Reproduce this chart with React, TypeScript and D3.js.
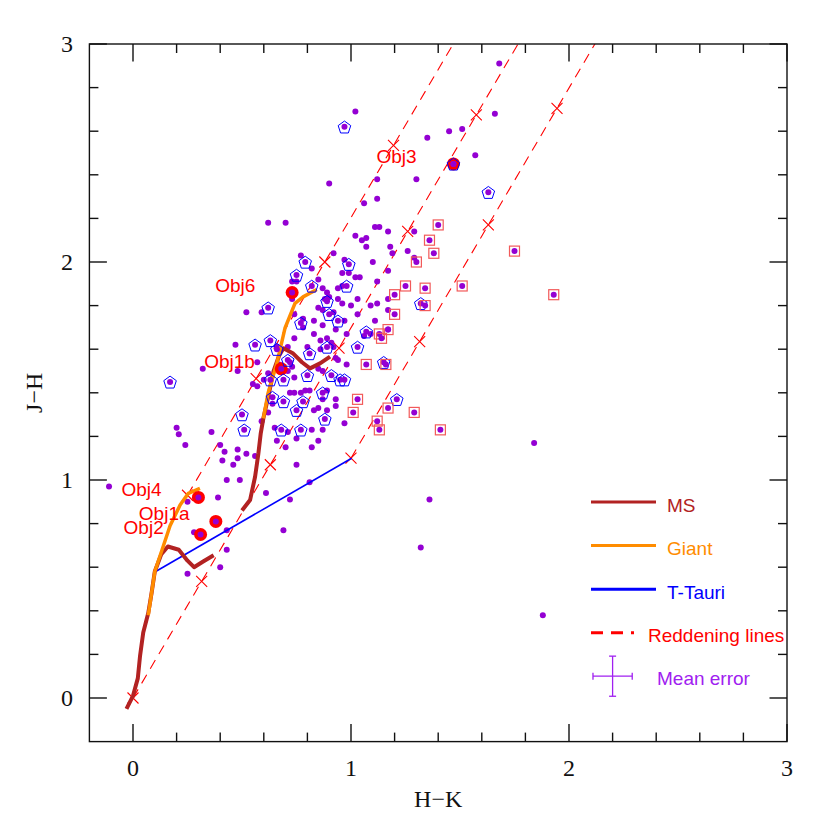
import { useEffect, useRef } from "react";
import * as d3 from "d3";

// plain J-H / H-K sources
const dotHK = [
  1.68, 1.02, 1.66, 1.51, 1.45, 1.35, 1.57, 1.12, 1.3, 0.9, 1.12, 1.06, 0.62, 0.7, 1.11, 1.13, 1.17, 1.29,
  1.02, 1.05, 1.07, 1.07, 1.18, 1.26, 1.19, 1.1, 1.17, 1.29, 0.92, 0.77, 0.82, 0.97, 0.85, 0.73, 0.75, 0.96,
  0.99, 1.02, 1.04, 1.12, 0.87, 0.94, 0.96, 0.89, 0.9, 0.88, 0.89, 0.94, 0.96, 1.0, 1.03, 1.12, 1.17, 1.09,
  0.73, 0.52, 0.59, 0.85, 0.87, 0.92, 0.74, 0.78, 0.83, 0.97, 1.03, 1.17, 1.11, 1.06, 1.09, 0.87, 0.78, 0.83,
  0.93, 0.74, 0.86, 0.89, 0.91, 0.92, 0.98, 0.47, 0.66, 0.57, 0.48, 0.32, 0.8, 0.71, 0.72, 0.98, 0.94, 1.17,
  0.62, 0.6, 0.74, 0.57, 0.55, 0.64, 0.72, 0.74, 0.77, 0.79, 0.81, 0.83, 0.87, 0.89, 0.93, 0.93, 0.89, 0.85,
  0.82, 0.87, 0.66, 0.7, 0.75, 0.82, 0.85, 0.36, 0.2, 0.21, 0.24, 0.4, 0.42, 0.41, 0.48, 0.52, 0.48, 0.46,
  0.56, 0.43, 0.49, 0.39, 0.61, 0.75, 0.81, 0.72, 1.36, 0.25, 0.43, 0.69, 0.28, 0.43, 0.4, 0.25, -0.11, 1.84,
  1.32, 1.88, 0.86, 0.93, 0.87, 0.67, 0.71, 0.73, 0.85, 0.59, 0.62, 0.65, 0.71, 0.97,
];
const dotJH = [
  2.91, 2.69, 2.68, 2.61, 2.6, 2.57, 2.49, 2.38, 2.38, 2.36, 2.29, 2.27, 2.18, 2.18, 2.16, 2.16, 2.14, 2.14,
  2.12, 2.1, 2.11, 2.07, 2.07, 2.05, 2.04, 2.0, 1.96, 2.02, 2.04, 2.03, 1.97, 2.01, 1.92, 1.91, 1.91, 1.95,
  1.95, 1.93, 1.93, 1.91, 1.88, 1.88, 1.89, 1.86, 1.84, 1.83, 1.83, 1.83, 1.81, 1.8, 1.83, 1.81, 1.83, 1.8,
  1.83, 1.77, 1.77, 1.79, 1.78, 1.77, 1.76, 1.74, 1.73, 1.73, 1.76, 1.78, 1.73, 1.66, 1.67, 1.71, 1.7, 1.67,
  1.69, 1.65, 1.64, 1.65, 1.63, 1.61, 1.67, 1.62, 1.61, 1.54, 1.5, 1.51, 1.61, 1.61, 1.54, 1.53, 1.55, 1.69,
  1.49, 1.46, 1.47, 1.43, 1.44, 1.35, 1.4, 1.4, 1.4, 1.41, 1.41, 1.32, 1.37, 1.41, 1.37, 1.34, 1.32, 1.33,
  1.23, 1.23, 1.18, 1.15, 1.19, 1.15, 1.18, 1.22, 1.24, 1.21, 1.16, 1.16, 1.13, 1.09, 1.14, 1.12, 1.1, 1.07,
  1.11, 1.0, 1.0, 0.92, 0.94, 1.07, 0.99, 0.91, 0.91, 0.9, 0.77, 0.77, 0.76, 0.68, 0.6, 0.57, 0.97, 1.17,
  0.69, 0.38, 1.6, 1.56, 1.5, 1.53, 1.5, 1.52, 1.51, 1.27, 1.31, 1.24, 1.22, 1.26,
];

// sources with a blue pentagon
const pentHK = [
  0.97, 1.63, 0.79, 0.99, 0.75, 0.82, 0.98, 0.89, 0.62, 0.9, 0.77, 0.94, 1.07, 0.63, 0.56, 0.89, 1.03, 0.66,
  0.81, 0.71, 0.63, 0.69, 0.8, 0.91, 0.95, 0.97, 0.87, 0.64, 0.69, 0.78, 0.75, 0.5, 0.88, 0.51, 0.68, 0.77,
  0.17, 1.15, 1.21, 1.32, 1.47,
];
const pentJH = [
  2.62, 2.32, 2.0, 1.99, 1.94, 1.89, 1.89, 1.82, 1.79, 1.76, 1.72, 1.73, 1.68, 1.64, 1.62, 1.61, 1.61, 1.6,
  1.58, 1.55, 1.46, 1.46, 1.48, 1.48, 1.46, 1.46, 1.4, 1.38, 1.36, 1.36, 1.32, 1.3, 1.28, 1.23, 1.23, 1.23,
  1.45, 1.54, 1.37, 1.81, 2.45,
];

// sources with a red square
const sqHK = [
  1.4, 1.36, 1.38, 1.3, 1.25, 1.34, 1.51, 1.75, 1.93, 1.2, 1.2, 1.17, 1.13, 1.14, 1.07, 1.16, 1.34, 1.03,
  1.01, 1.17, 1.29, 1.12, 1.13, 1.41,
];
const sqJH = [
  2.17, 2.1, 2.04, 2.0, 1.89, 1.88, 1.89, 2.05, 1.85, 1.85, 1.76, 1.69, 1.67, 1.65, 1.53, 1.53, 1.8, 1.37,
  1.31, 1.33, 1.31, 1.27, 1.23, 1.23,
];

// labelled objects
const objNames = ["Obj3", "Obj6", "Obj1b", "Obj4", "Obj1a", "Obj2"];
const objHK = [1.47, 0.73, 0.68, 0.3, 0.38, 0.31];
const objJH = [2.45, 1.86, 1.51, 0.92, 0.81, 0.75];

// intrinsic loci
const msLow: [number, number][] = [
  [-0.03, -0.05], [0.0, 0.01], [0.022, 0.09], [0.032, 0.19], [0.047, 0.3], [0.07, 0.39], [0.085, 0.48],
  [0.1, 0.58], [0.13, 0.66], [0.16, 0.695], [0.21, 0.68], [0.25, 0.63], [0.28, 0.6], [0.32, 0.625], [0.37, 0.655],
];
const msHigh: [number, number][] = [
  [0.5, 0.86], [0.537, 0.908], [0.56, 1.015], [0.575, 1.12], [0.586, 1.214], [0.598, 1.283], [0.62, 1.38],
  [0.645, 1.5], [0.67, 1.57], [0.69, 1.604], [0.735, 1.58], [0.775, 1.54], [0.812, 1.512], [0.858, 1.535], [0.904, 1.566],
];
const giantLow: [number, number][] = [
  [0.07, 0.38], [0.1, 0.58], [0.13, 0.67], [0.17, 0.79], [0.216, 0.885], [0.254, 0.939], [0.307, 0.962],
];
const giantHigh: [number, number][] = [
  [0.598, 1.283], [0.62, 1.4], [0.66, 1.535], [0.697, 1.696], [0.743, 1.81], [0.78, 1.84], [0.843, 1.874],
];
const tTauri: [number, number][] = [[0.104, 0.58], [1.003, 1.1]];

// reddening vectors: starts, step per 5 mag of Av
const redStartHK = [0.25, 0.0, 1.0];
const redStartJH = [0.93, 0.0, 1.1];
const avStepHK = 0.315;
const avStepJH = 0.535;

// mean error bar
const errPos = [2.2, 0.1];
const errSize = [0.09, 0.092];

const xTicks = [0, 1, 2, 3];
const yTicks = [0, 1, 2, 3];

const C = {
  dot: "#9400d3",
  pent: "#0000ff",
  sq: "#f25a5a",
  ms: "#b22222",
  giant: "#ff8c00",
  tt: "#0000ff",
  red: "#ff0000",
  err: "#a020f0",
};

function pentagon(cx: number, cy: number, r: number) {
  const pts = d3.range(5).map((k) => {
    const a = -Math.PI / 2 + (k * 2 * Math.PI) / 5;
    return [cx + r * Math.cos(a), cy + r * Math.sin(a) + 0.8];
  });
  return "M" + pts.map((p) => p.join(",")).join("L") + "Z";
}

export default function App() {
  const ref = useRef<SVGSVGElement>(null);

  useEffect(() => {
    if (!ref.current) return;
    const svg = d3.select(ref.current);
    svg.selectAll("*").remove();

    const left = 89.4, right = 787, top = 44, bottom = 741.6;
    const x = d3.scaleLinear().domain([-0.2, 3]).range([left, right]);
    const y = d3.scaleLinear().domain([-0.2, 3]).range([bottom, top]);

    svg.append("defs").append("clipPath").attr("id", "plot")
      .append("rect").attr("x", left).attr("y", top).attr("width", right - left).attr("height", bottom - top);

    const g = svg.append("g").attr("clip-path", "url(#plot)");
    const line = d3.line<[number, number]>().x((d) => x(d[0])).y((d) => y(d[1]));

    // reddening lines + Av crosses
    const slope = avStepJH / avStepHK;
    redStartHK.forEach((hk0, i) => {
      const jh0 = redStartJH[i];
      const hkEnd = hk0 + (3.05 - jh0) / slope;
      g.append("path")
        .attr("d", line([[hk0, jh0], [hkEnd, jh0 + (hkEnd - hk0) * slope]]))
        .attr("fill", "none").attr("stroke", C.red).attr("stroke-width", 1.1)
        .attr("stroke-dasharray", "10,7");
      for (let k = 0; jh0 + k * avStepJH <= 3; k++) {
        const cx = x(hk0 + k * avStepHK), cy = y(jh0 + k * avStepJH), s = 5.5;
        g.append("path")
          .attr("d", `M${cx - s},${cy - s}L${cx + s},${cy + s}M${cx - s},${cy + s}L${cx + s},${cy - s}`)
          .attr("stroke", C.red).attr("stroke-width", 1.1);
      }
    });

    // plain sources
    g.selectAll(".dot").data(dotHK).enter().append("circle")
      .attr("cx", (d) => x(d)).attr("cy", (_, i) => y(dotJH[i])).attr("r", 3).attr("fill", C.dot);

    // loci
    g.append("path").attr("d", line(tTauri)).attr("stroke", C.tt).attr("stroke-width", 1.6).attr("fill", "none");
    [msLow, msHigh].forEach((p) =>
      g.append("path").attr("d", line.curve(d3.curveLinear)(p)).attr("stroke", C.ms).attr("stroke-width", 4)
        .attr("fill", "none").attr("stroke-linejoin", "round"));
    [giantLow, giantHigh].forEach((p) =>
      g.append("path").attr("d", line(p)).attr("stroke", C.giant).attr("stroke-width", 3.5)
        .attr("fill", "none").attr("stroke-linejoin", "round"));

    // objects
    objHK.forEach((hk, i) => {
      g.append("circle").attr("cx", x(hk)).attr("cy", y(objJH[i])).attr("r", 6.5).attr("fill", C.red);
      g.append("circle").attr("cx", x(hk)).attr("cy", y(objJH[i])).attr("r", 3).attr("fill", C.dot);
      svg.append("text").attr("x", x(hk) - 77).attr("y", y(objJH[i]) - 1)
        .style("font-family", "'Liberation Sans', Arial, sans-serif").style("font-size", "19px")
        .attr("fill", C.red).text(objNames[i]);
    });

    // pentagons
    pentHK.forEach((hk, i) => {
      const cx = x(hk), cy = y(pentJH[i]);
      g.append("circle").attr("cx", cx).attr("cy", cy).attr("r", 3).attr("fill", C.dot);
      g.append("path").attr("d", pentagon(cx, cy, 6.6)).attr("fill", "none").attr("stroke", C.pent).attr("stroke-width", 1);
    });

    // squares
    sqHK.forEach((hk, i) => {
      const cx = x(hk), cy = y(sqJH[i]);
      g.append("circle").attr("cx", cx).attr("cy", cy).attr("r", 3).attr("fill", C.dot);
      g.append("rect").attr("x", cx - 5).attr("y", cy - 5).attr("width", 10).attr("height", 10)
        .attr("fill", "none").attr("stroke", C.sq).attr("stroke-width", 1.2);
    });

    // frame + ticks
    const ax = svg.append("g").attr("stroke", "#111").attr("stroke-width", 1.4);
    ax.append("rect").attr("x", left).attr("y", top).attr("width", right - left).attr("height", bottom - top).attr("fill", "none");
    const minors = d3.range(0, 3.001, 0.2).map((v) => Math.round(v * 10) / 10);
    minors.forEach((v) => {
      const major = Math.abs(v - Math.round(v)) < 1e-6;
      const L = major ? 17.5 : 9;
      ax.append("line").attr("x1", x(v)).attr("x2", x(v)).attr("y1", bottom).attr("y2", bottom - L);
      ax.append("line").attr("x1", x(v)).attr("x2", x(v)).attr("y1", top).attr("y2", top + L);
      ax.append("line").attr("y1", y(v)).attr("y2", y(v)).attr("x1", left).attr("x2", left + L);
      ax.append("line").attr("y1", y(v)).attr("y2", y(v)).attr("x1", right).attr("x2", right - L);
    });

    const serif = "'Liberation Serif', 'Times New Roman', serif";
    xTicks.forEach((t) =>
      svg.append("text").attr("x", x(t)).attr("y", 776).attr("text-anchor", "middle")
        .style("font-family", serif).style("font-size", "24px").attr("fill", "#111").text(String(t)));
    yTicks.forEach((t) =>
      svg.append("text").attr("x", 67).attr("y", y(t)).attr("dy", "0.35em").attr("text-anchor", "middle")
        .style("font-family", serif).style("font-size", "24px").attr("fill", "#111").text(String(t)));
    svg.append("text").attr("x", x(1.4)).attr("y", 807).attr("text-anchor", "middle")
      .style("font-family", serif).style("font-size", "24px").attr("fill", "#111").text("H\u2212K");
    svg.append("text").attr("transform", `translate(42,${y(1.4)}) rotate(-90)`).attr("text-anchor", "middle")
      .style("font-family", serif).style("font-size", "24px").attr("fill", "#111").text("J\u2212H");

    // legend
    const legend = [
      { label: "MS", color: C.ms, dash: "", tx: 667 },
      { label: "Giant", color: C.giant, dash: "", tx: 667 },
      { label: "T-Tauri", color: C.tt, dash: "", tx: 667 },
      { label: "Reddening lines", color: C.red, dash: "12,8", tx: 648 },
    ];
    const sans = "'Liberation Sans', Arial, sans-serif";
    legend.forEach((d, i) => {
      const ly = 502 + i * 43.6;
      svg.append("line").attr("x1", 591).attr("x2", d.dash ? 634 : 656).attr("y1", ly).attr("y2", ly)
        .attr("stroke", d.color).attr("stroke-width", 3).attr("stroke-dasharray", d.dash || null);
      svg.append("text").attr("x", d.tx).attr("y", ly + 9.5).style("font-family", sans).style("font-size", "19px")
        .attr("fill", d.color).text(d.label);
    });
    const ex = x(errPos[0]), ey = y(errPos[1]);
    const ew = x(errPos[0] + errSize[0]) - ex, eh = ey - y(errPos[1] + errSize[1]);
    const eg = svg.append("g").attr("stroke", C.err).attr("stroke-width", 1.3);
    eg.append("line").attr("x1", ex - ew).attr("x2", ex + ew).attr("y1", ey).attr("y2", ey);
    eg.append("line").attr("x1", ex).attr("x2", ex).attr("y1", ey - eh).attr("y2", ey + eh);
    eg.append("line").attr("x1", ex - ew).attr("x2", ex - ew).attr("y1", ey - 3.5).attr("y2", ey + 3.5);
    eg.append("line").attr("x1", ex + ew).attr("x2", ex + ew).attr("y1", ey - 3.5).attr("y2", ey + 3.5);
    eg.append("line").attr("x1", ex - 3.5).attr("x2", ex + 3.5).attr("y1", ey - eh).attr("y2", ey - eh);
    eg.append("line").attr("x1", ex - 3.5).attr("x2", ex + 3.5).attr("y1", ey + eh).attr("y2", ey + eh);
    svg.append("text").attr("x", 657).attr("y", ey + 8.5).style("font-family", sans).style("font-size", "19px")
      .attr("fill", C.err).text("Mean error");
  }, []);

  return (
    <div style={{ position: "absolute", left: 0, top: 0 }}>
      <svg ref={ref} width={830} height={830} style={{ display: "block", background: "#fff" }} />
    </div>
  );
}
